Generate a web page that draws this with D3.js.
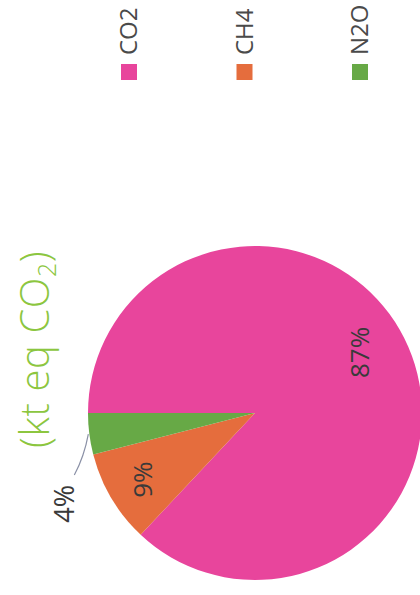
<!DOCTYPE html>
<html>
<head>
<meta charset="utf-8">
<script src="https://cdn.jsdelivr.net/npm/d3@7"></script>
<style>
  html, body { margin: 0; padding: 0; background: #ffffff; }
  svg { display: block; }
  text { font-family: "Open Sans", "DejaVu Sans", sans-serif; }
</style>
</head>
<body>
<script>
// Greenhouse gas shares (kt eq CO2)
const gases = ["CO2", "CH4", "N2O"];
const shares = [87, 9, 4];
const shareLabels = ["87%", "9%", "4%"];
const colors = ["#e8459c", "#e56d3d", "#67a946"];

const pageW = 420, pageH = 595;
// The chart is laid out in a 595 x 420 frame and turned a quarter-turn on the page.
const W = 595, H = 420;

const svg = d3.select("body").append("svg")
  .attr("width", pageW)
  .attr("height", pageH);

const g = svg.append("g")
  .attr("transform", `translate(0,${pageH}) rotate(-90)`);

// Title (only the unit part is visible)
const title = g.append("text")
  .attr("x", 147)
  .attr("y", 49)
  .attr("fill", "#8cc63f")
  .attr("font-size", 40)
  .attr("letter-spacing", 0.6)
  .attr("font-weight", 300);
title.append("tspan").text("(kt eq CO");
title.append("tspan").attr("font-size", 25).attr("dy", 7).text("2");
title.append("tspan").attr("dy", -7).text(")");

// Pie
const cx = 182, cy = 255, radius = 167;
const pie = d3.pie().sort(null).value(d => d)(shares);
const arc = d3.arc().innerRadius(0).outerRadius(radius);

const pg = g.append("g").attr("transform", `translate(${cx},${cy})`);

pg.selectAll("path.slice")
  .data(pie)
  .join("path")
  .attr("class", "slice")
  .attr("d", arc)
  .attr("fill", (d, i) => colors[i]);

// Inside labels for the two larger slices: the big slice's label sits a bit
// nearer its start and closer to the centre.
function insidePos(d) {
  const big = d.endAngle - d.startAngle > Math.PI;
  const t = big ? 0.478 : 0.5;
  const r = big ? 120 : 131;
  const a = d.startAngle + (d.endAngle - d.startAngle) * t;
  return [Math.sin(a) * r, -Math.cos(a) * r];
}
pg.selectAll("text.inside")
  .data(pie.filter(d => d.data >= 5))
  .join("text")
  .attr("class", "inside")
  .attr("transform", d => `translate(${insidePos(d)})`)
  .attr("text-anchor", "middle")
  .attr("dominant-baseline", "central")
  .attr("font-size", 26)
  .attr("fill", "#3a3a3a")
  .text(d => shareLabels[d.index]);

// Outside label with a leader line for the small slice
const edgeArc = d3.arc().innerRadius(radius + 1).outerRadius(radius + 1);
pie.filter(d => d.data < 5).forEach(d => {
  const [ex, ey] = edgeArc.centroid(d);
  const lx = ex - 41, ly = ey - 14;
  pg.append("path")
    .attr("d", `M${ex},${ey} Q${ex - 22},${ey - 4} ${lx},${ly}`)
    .attr("fill", "none")
    .attr("stroke", "#8a90a6")
    .attr("stroke-width", 1.2);
  pg.append("text")
    .attr("x", lx - 10)
    .attr("y", ly)
    .attr("text-anchor", "end")
    .attr("font-size", 27)
    .attr("fill", "#3a3a3a")
    .text(shareLabels[d.index]);
});

// Legend
const legendX = 515;
const legendY = d3.scalePoint().domain(gases).range([121, 352]);
const lg = g.selectAll("g.legend")
  .data(gases)
  .join("g")
  .attr("class", "legend")
  .attr("transform", d => `translate(${legendX},${legendY(d)})`);
lg.append("rect")
  .attr("width", 16)
  .attr("height", 16)
  .attr("fill", (d, i) => colors[i]);
lg.append("text")
  .attr("x", 25)
  .attr("y", 16)
  .attr("font-size", 24)
  .attr("fill", "#4a4a4a")
  .text(d => d);
</script>
</body>
</html>
